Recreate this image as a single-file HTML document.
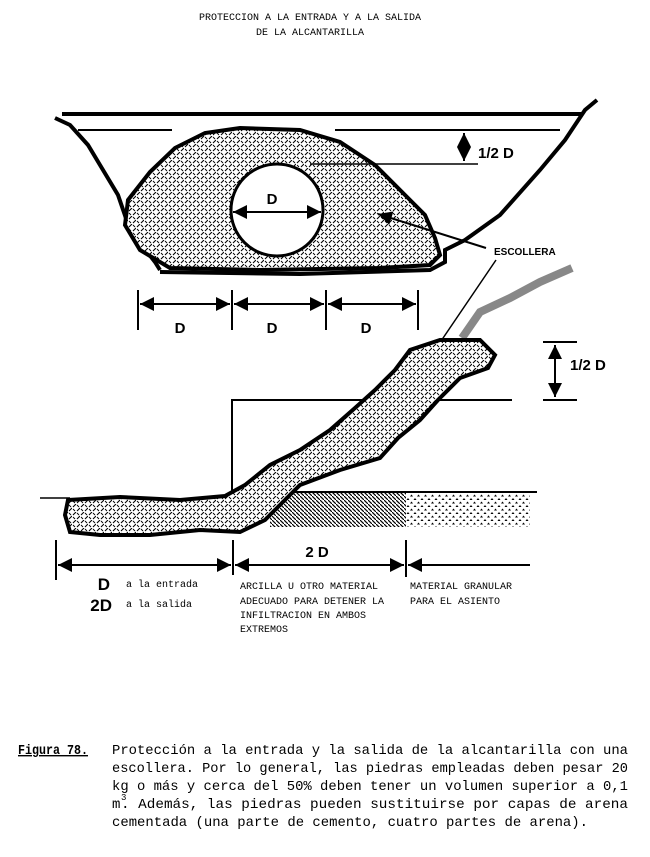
<!DOCTYPE html>
<html><head><meta charset="utf-8"><style>
html,body{margin:0;padding:0;background:#fff;}
svg{display:block;}
.m{font-family:"Liberation Mono",monospace;}
.s{font-family:"Liberation Sans",sans-serif;font-weight:bold;}
</style></head><body>
<svg width="650" height="857" viewBox="0 0 650 857" xmlns="http://www.w3.org/2000/svg">
<defs>
<pattern id="dash" width="8" height="8" patternUnits="userSpaceOnUse">
<rect width="8" height="8" fill="#fff"/>
<path d="M1 3 L4 0 M5 7 L8 4" stroke="#000" stroke-width="1.1"/>
<path d="M1 5 L3 7 M5 1 L7 3" stroke="#000" stroke-width="0.9"/>
</pattern>
<pattern id="hatch" width="4" height="4" patternUnits="userSpaceOnUse">
<rect width="4" height="4" fill="#fff"/>
<path d="M0 0 L4 4" stroke="#000" stroke-width="1.2"/>
</pattern>
<pattern id="dots" width="7" height="7" patternUnits="userSpaceOnUse">
<rect width="7" height="7" fill="#fff"/>
<path d="M2 1 L3.5 3 L0.5 3Z M5.5 4.5 L7 6.5 L4 6.5Z" fill="#000"/>
</pattern>
<marker id="ah" viewBox="0 0 10 10" refX="10" refY="5" markerWidth="7" markerHeight="7" orient="auto-start-reverse">
<path d="M0 0 L10 5 L0 10Z" fill="#000"/>
</marker>
</defs>

<text class="m" x="310" y="20" font-size="10" text-anchor="middle">PROTECCION A LA ENTRADA Y A LA SALIDA</text>
<text class="m" x="310" y="35" font-size="10" text-anchor="middle">DE LA ALCANTARILLA</text>

<!-- top figure -->
<line x1="62" y1="114" x2="583" y2="114" stroke="#000" stroke-width="4"/>
<line x1="78" y1="130" x2="172" y2="130" stroke="#000" stroke-width="2"/>
<line x1="335" y1="130" x2="560" y2="130" stroke="#000" stroke-width="2"/>
<path d="M160 270 L155 262 L130 230 L118 195 L100 165 L88 145 L70 125 L55 118" fill="none" stroke="#000" stroke-width="4"/>
<path d="M160 272 L300 274 L430 270 L445 262 L445 250 L465 240 L500 215 L540 170 L565 140 L585 110 L597 100" fill="none" stroke="#000" stroke-width="4"/>
<path d="M128 200 L150 172 L175 148 L205 133 L240 128 L300 130 L340 142 L375 165 L405 195 L425 215 L435 238 L440 255 L430 265 L380 268 L260 270 L170 268 L140 250 L125 225 Z" fill="url(#dash)" stroke="#000" stroke-width="4"/>
<circle cx="277" cy="210" r="46" fill="#fff" stroke="#000" stroke-width="3"/>
<line x1="233" y1="212" x2="321" y2="212" stroke="#000" stroke-width="2" marker-start="url(#ah)" marker-end="url(#ah)"/>
<text class="s" x="272" y="204" font-size="15" text-anchor="middle">D</text>
<line x1="310" y1="164" x2="478" y2="164" stroke="#000" stroke-width="1.5"/>
<line x1="464" y1="133" x2="464" y2="161" stroke="#000" stroke-width="2" marker-start="url(#ah)" marker-end="url(#ah)"/>
<text class="s" x="478" y="158" font-size="15" font-weight="normal">1/2 D</text>
<line x1="486" y1="248" x2="378" y2="214" stroke="#000" stroke-width="2" marker-end="url(#ah)"/>
<text class="s" x="494" y="255" font-size="10">ESCOLLERA</text>

<!-- top dims -->
<g stroke="#000" stroke-width="2">
<line x1="138" y1="290" x2="138" y2="330"/>
<line x1="232" y1="290" x2="232" y2="330"/>
<line x1="326" y1="290" x2="326" y2="330"/>
<line x1="418" y1="290" x2="418" y2="330"/>
<line x1="140" y1="304" x2="230" y2="304" marker-start="url(#ah)" marker-end="url(#ah)"/>
<line x1="234" y1="304" x2="324" y2="304" marker-start="url(#ah)" marker-end="url(#ah)"/>
<line x1="328" y1="304" x2="416" y2="304" marker-start="url(#ah)" marker-end="url(#ah)"/>
</g>
<text class="s" x="180" y="333" font-size="15" text-anchor="middle">D</text>
<text class="s" x="272" y="333" font-size="15" text-anchor="middle">D</text>
<text class="s" x="366" y="333" font-size="15" text-anchor="middle">D</text>

<!-- bottom figure -->
<line x1="496" y1="260" x2="420" y2="372" stroke="#000" stroke-width="1.5" marker-end="url(#ah)"/>
<path d="M462 338 L480 312 L510 298 L540 282 L572 268" fill="none" stroke="#888" stroke-width="8"/>
<path d="M232 492 L232 400 L512 400" fill="none" stroke="#000" stroke-width="2"/>
<g stroke="#000" stroke-width="2">
<line x1="543" y1="342" x2="577" y2="342"/>
<line x1="543" y1="400" x2="577" y2="400"/>
<line x1="555" y1="345" x2="555" y2="397" marker-start="url(#ah)" marker-end="url(#ah)"/>
</g>
<text class="s" x="570" y="370" font-size="15" font-weight="normal">1/2 D</text>
<line x1="40" y1="498" x2="70" y2="498" stroke="#000" stroke-width="1.5"/>
<line x1="285" y1="492" x2="537" y2="492" stroke="#000" stroke-width="2"/>
<rect x="270" y="493" width="136" height="34" fill="url(#hatch)"/>
<rect x="406" y="493" width="124" height="34" fill="url(#dots)"/>
<path d="M68 500 L120 497 L180 500 L225 496 L245 485 L270 465 L300 450 L330 430 L355 408 L375 390 L395 370 L410 350 L440 340 L480 340 L495 355 L488 368 L460 378 L438 400 L420 420 L398 438 L380 458 L340 470 L300 485 L280 505 L265 520 L240 532 L200 530 L150 535 L100 535 L70 532 L65 515 Z" fill="url(#dash)" stroke="#000" stroke-width="4"/>

<!-- bottom dims -->
<g stroke="#000" stroke-width="2">
<line x1="56" y1="540" x2="56" y2="580"/>
<line x1="233" y1="540" x2="233" y2="575"/>
<line x1="406" y1="540" x2="406" y2="577"/>
<line x1="58" y1="565" x2="231" y2="565" marker-start="url(#ah)" marker-end="url(#ah)"/>
<line x1="235" y1="565" x2="404" y2="565" marker-start="url(#ah)" marker-end="url(#ah)"/>
<line x1="408" y1="565" x2="530" y2="565" marker-start="url(#ah)"/>
</g>
<text class="s" x="317" y="557" font-size="15" font-weight="normal" text-anchor="middle">2 D</text>
<text class="s" x="110" y="590" font-size="17" font-weight="normal" text-anchor="end">D</text>
<text class="m" x="126" y="587" font-size="10">a la entrada</text>
<text class="s" x="112" y="611" font-size="17" font-weight="normal" text-anchor="end">2D</text>
<text class="m" x="126" y="607" font-size="10">a la salida</text>
<g class="m" font-size="10">
<text x="240" y="589">ARCILLA U OTRO MATERIAL</text>
<text x="240" y="604">ADECUADO PARA DETENER LA</text>
<text x="240" y="618">INFILTRACION EN AMBOS</text>
<text x="240" y="632">EXTREMOS</text>
<text x="410" y="589">MATERIAL GRANULAR</text>
<text x="410" y="604">PARA EL ASIENTO</text>
</g>

<!-- caption -->
<g class="m" font-size="14" xml:space="preserve">
<text x="18" y="754" font-weight="bold" text-decoration="underline" textLength="70" lengthAdjust="spacingAndGlyphs">Figura 78.</text>
<text x="112" y="754" textLength="516" lengthAdjust="spacingAndGlyphs">Protección a la entrada y la salida de la alcantarilla con una</text>
<text x="112" y="772" textLength="516" lengthAdjust="spacingAndGlyphs">escollera.  Por lo general, las piedras empleadas deben pesar 20</text>
<text x="112" y="790" textLength="516" lengthAdjust="spacingAndGlyphs">kg o más y cerca del 50% deben tener un volumen superior a 0,1</text>
<text x="112" y="808">m</text>
<text x="121" y="800" font-size="9">3</text>
<text x="121" y="808" textLength="507" lengthAdjust="spacingAndGlyphs">.  Además, las piedras pueden sustituirse por capas de arena</text>
<text x="112" y="826" textLength="476" lengthAdjust="spacingAndGlyphs">cementada (una parte de cemento, cuatro partes de arena).</text>
</g>
</svg>
</body></html>
